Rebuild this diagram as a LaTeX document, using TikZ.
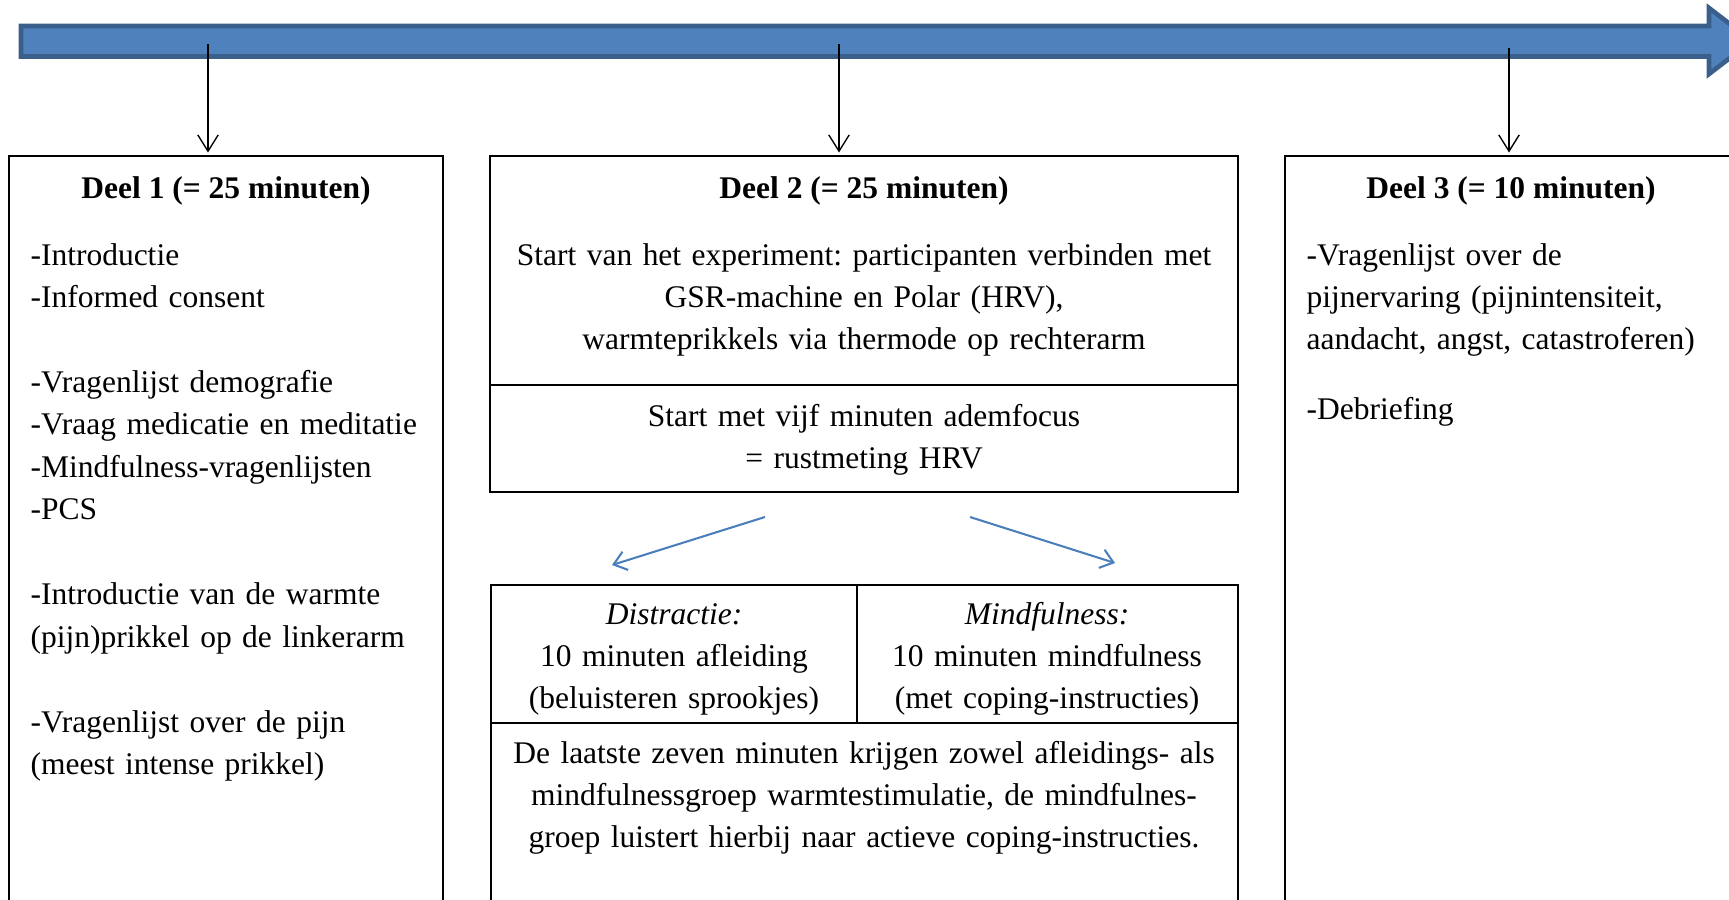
\documentclass[tikz,border=0pt]{standalone}
\usepackage{fontspec}
\setmainfont{Liberation Serif}
\usetikzlibrary{arrows.meta,fit}
\definecolor{tijdblauw}{HTML}{4F81BD}
\definecolor{tijdrand}{HTML}{3A5F8B}
\definecolor{splitblauw}{HTML}{4A7EBB}
\frenchspacing

\begin{document}
\begin{tikzpicture}[x=0.3667pt, y=-0.3667pt,
	blok/.style={draw=black, line width=0.55pt, inner sep=0pt},
	tekst/.style={inner sep=0pt, font=\fontsize{11.55}{15.57}\selectfont},
	links/.style={tekst, anchor=base west, text width=175pt, align=left},
	midden/.style={tekst, anchor=base, text width=280pt, align=center},
	titel/.style={tekst, anchor=base, font=\fontsize{11.55}{15.57}\selectfont\bfseries},
	post/.style={-{Straight Barb[length=6pt, width=7.5pt]}, shorten >=1pt, line width=0.5pt},
	splits/.style={-{Straight Barb[length=4.5pt, width=7pt]}, splitblauw, line width=0.75pt}]
	\useasboundingbox (0,0) rectangle (1729,899);
	\clip (0,0) rectangle (1729,899);
	% tijdlijn
	\fill[tijdblauw, draw=tijdrand, line width=1.7pt] (21,26) -- (1709,26) -- (1709,8)
		-- (1752,41) -- (1709,74) -- (1709,56.5) -- (21,56.5) -- cycle;
	\coordinate (t1) at (208,44);
	\coordinate (t2) at (839,44);
	\coordinate (t3) at (1509,48);

	% blokken
	\node[blok, fit={(9,156) (443,920)}] (deel1) {};
	\node[blok, fit={(490,156) (1238,385)}] (deel2) {};
	\node[blok, fit={(490,385) (1238,492)}] (rust) {};
	\node[blok, fit={(491,585) (857,723)}] (distr) {};
	\node[blok, fit={(857,585) (1238,723)}] (mindf) {};
	\node[blok, fit={(491,723) (1238,920)}] (laatste) {};
	\node[blok, fit={(1285,156) (1737,920)}] (deel3) {};

	\draw[post] (t1) -- (t1 |- deel1.north);
	\draw[post] (t2) -- (t2 |- deel2.north);
	\draw[post] (t3) -- (t3 |- deel3.north);

	% deel 1
	\node[titel] (titel1) at (226,199) {Deel 1 (= 25 minuten)};
	\node[links] (lijst1) at (30,265) {-Introductie\\-Informed consent\\[\baselineskip]
		-Vragenlijst demografie\\-Vraag medicatie en meditatie\\-Mindfulness-vragenlijsten\\-PCS\\[\baselineskip]
		-Introductie van de warmte\\(pijn)prikkel op de linkerarm\\[\baselineskip]
		-Vragenlijst over de pijn\\(meest intense prikkel)};

	% deel 2
	\node[titel] (titel2) at (864,199) {Deel 2 (= 25 minuten)};
	\node[midden] (start) at (864,265) {Start van het experiment: participanten verbinden met\\
		GSR-machine en Polar (HRV),\\warmteprikkels via thermode op rechterarm};
	\node[midden] (adem) at (864,426) {Start met vijf minuten ademfocus\\= rustmeting HRV};
	\coordinate (sl) at (765,517);
	\coordinate (el) at (612,565);
	\coordinate (sr) at (970,517);
	\coordinate (er) at (1115,563);
	\draw[splits] (sl) -- (el);
	\draw[splits] (sr) -- (er);
	\node[midden] (distrtekst) at (674,624) {\textit{Distractie:}\\10 minuten afleiding\\(beluisteren sprookjes)};
	\node[midden] (mindftekst) at (1047,624) {\textit{Mindfulness:}\\10 minuten mindfulness\\(met coping-instructies)};
	\node[midden] (laatstetekst) at (864,763) {De laatste zeven minuten krijgen zowel afleidings- als\\
		mindfulnessgroep warmtestimulatie, de mindfulnes-\\groep luistert hierbij naar actieve coping-instructies.};

	% deel 3
	\node[titel] (titel3) at (1511,199) {Deel 3 (= 10 minuten)};
	\node[links] (lijst3) at (1306,265) {-Vragenlijst over de\\pijnervaring (pijnintensiteit,\\
		aandacht, angst, catastroferen)\\[10pt]-Debriefing};
\end{tikzpicture}
\end{document}
